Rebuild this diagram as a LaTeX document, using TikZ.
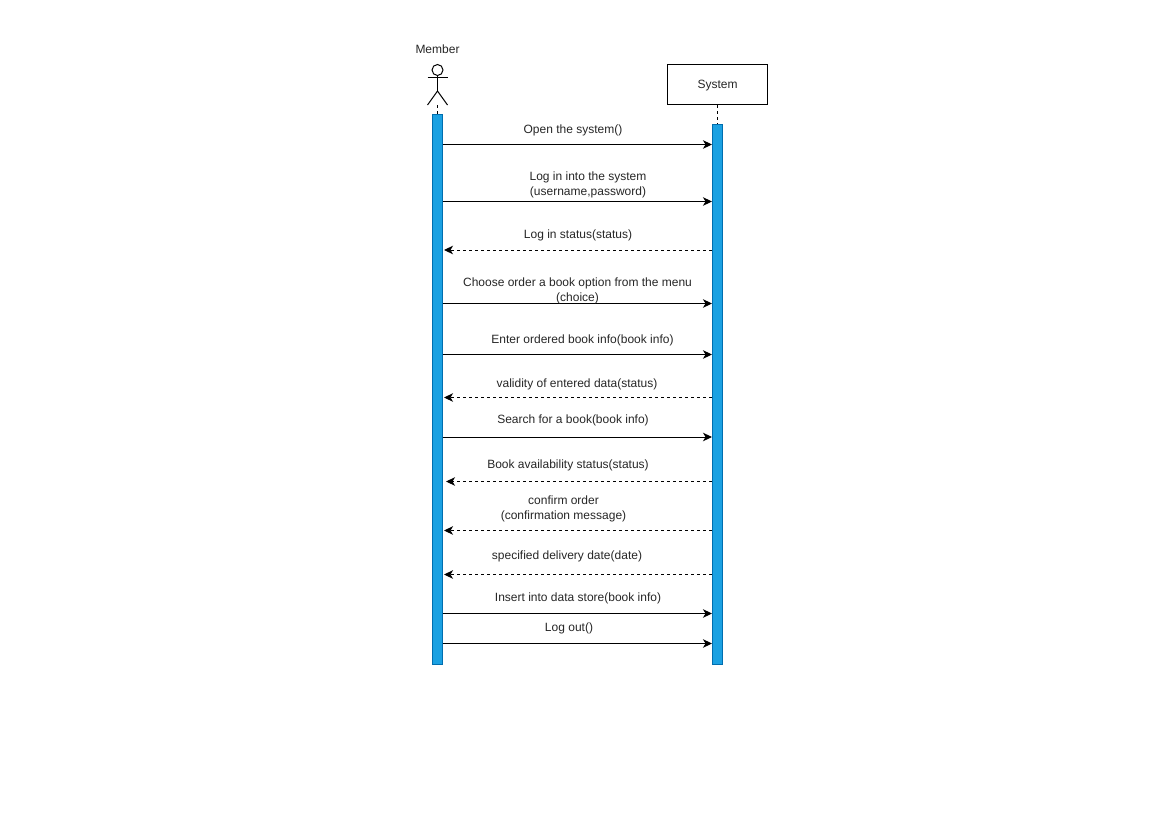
\documentclass[tikz,border=0pt]{standalone}
\usepackage{fontspec}
\setmainfont{Liberation Sans}
\usetikzlibrary{arrows.meta}
\definecolor{barfill}{HTML}{1BA1E2}
\definecolor{barline}{HTML}{006EAF}
\tikzset{
	bar/.style={draw=barline, fill=barfill, minimum width=10pt, inner sep=0pt},
	msg/.style={-{Stealth[length=9pt,width=8.5pt,inset=2.5pt]}},
	life/.style={dash pattern=on 3pt off 3pt},
	reply/.style={msg, life},
	label/.style={align=center, inner sep=0pt, font=\fontsize{12}{15}\selectfont, text=black!85}
}
\begin{document}
\begin{tikzpicture}[x=1pt, y=-1pt, line width=1pt]
	\useasboundingbox (0,0) rectangle (1169,827);
	
	%actor
	\node[label] (member) at (437.5, 49){Member};
	\node[draw, circle, minimum size=11pt, inner sep=0pt] (head) at (437.5, 70){};
	\coordinate (hip) at (437.5, 91);
	\coordinate (armleft) at (427.5, 77.5);
	\coordinate (armright) at (447.5, 77.5);
	\coordinate (legleft) at (427.5, 105);
	\coordinate (legright) at (447.5, 105);
	\draw (head.south) -- (hip);
	\draw (armleft) -- (armright);
	\draw (legleft) -- (hip) -- (legright);
	
	%system box
	\node[draw, label, text depth=1pt, minimum width=100pt, minimum height=40pt] (system) at (717.5, 84.5){System};
	
	%activation bars
	\node[bar, minimum height=550pt] (memberbar) at (437.5, 389.5){};
	\node[bar, minimum height=540pt] (systembar) at (717.5, 394.5){};
	\coordinate (memberlife) at (437.5, 105);
	\draw[life] (memberlife) -- (memberbar.north);
	\draw[life] (system.south) -- (systembar.north);
	
	%calls
	\foreach \n/\y in {a/144.5, b/201.5, c/303.5, d/354.5, e/437, f/613.5, g/643.5}{
		\coordinate (from\n) at (442.5, \y);
		\coordinate (to\n) at (712, \y);
		\draw[msg] (from\n) -- (to\n);
	}
	
	%replies
	\foreach \n/\y/\x in {p/250/444, q/397.5/444, r/481.5/446, s/530.5/444, t/574.5/444}{
		\coordinate (from\n) at (711.5, \y);
		\coordinate (to\n) at (\x, \y);
		\draw[reply] (from\n) -- (to\n);
	}
	
	%message labels
	\node[label] (open) at (573, 130){Open the system()};
	\node[label] (login) at (588, 184.5){Log in into the system\\(username,password)};
	\node[label] (loginstatus) at (578, 235){Log in status(status)};
	\node[label] (choose) at (577.5, 290.5){Choose order a book option from the menu\\(choice)};
	\node[label] (enter) at (582.5, 340){Enter ordered book info(book info)};
	\node[label] (validity) at (577, 384){validity of entered data(status)};
	\node[label] (search) at (573, 420){Search for a book(book info)};
	\node[label] (avail) at (568, 465){Book availability status(status)};
	\node[label] (confirm) at (563.5, 509){confirm order\\(confirmation message)};
	\node[label] (delivery) at (567, 556){specified delivery date(date)};
	\node[label] (insert) at (578, 598){Insert into data store(book info)};
	\node[label] (logout) at (569, 628){Log out()};
\end{tikzpicture}
\end{document}
